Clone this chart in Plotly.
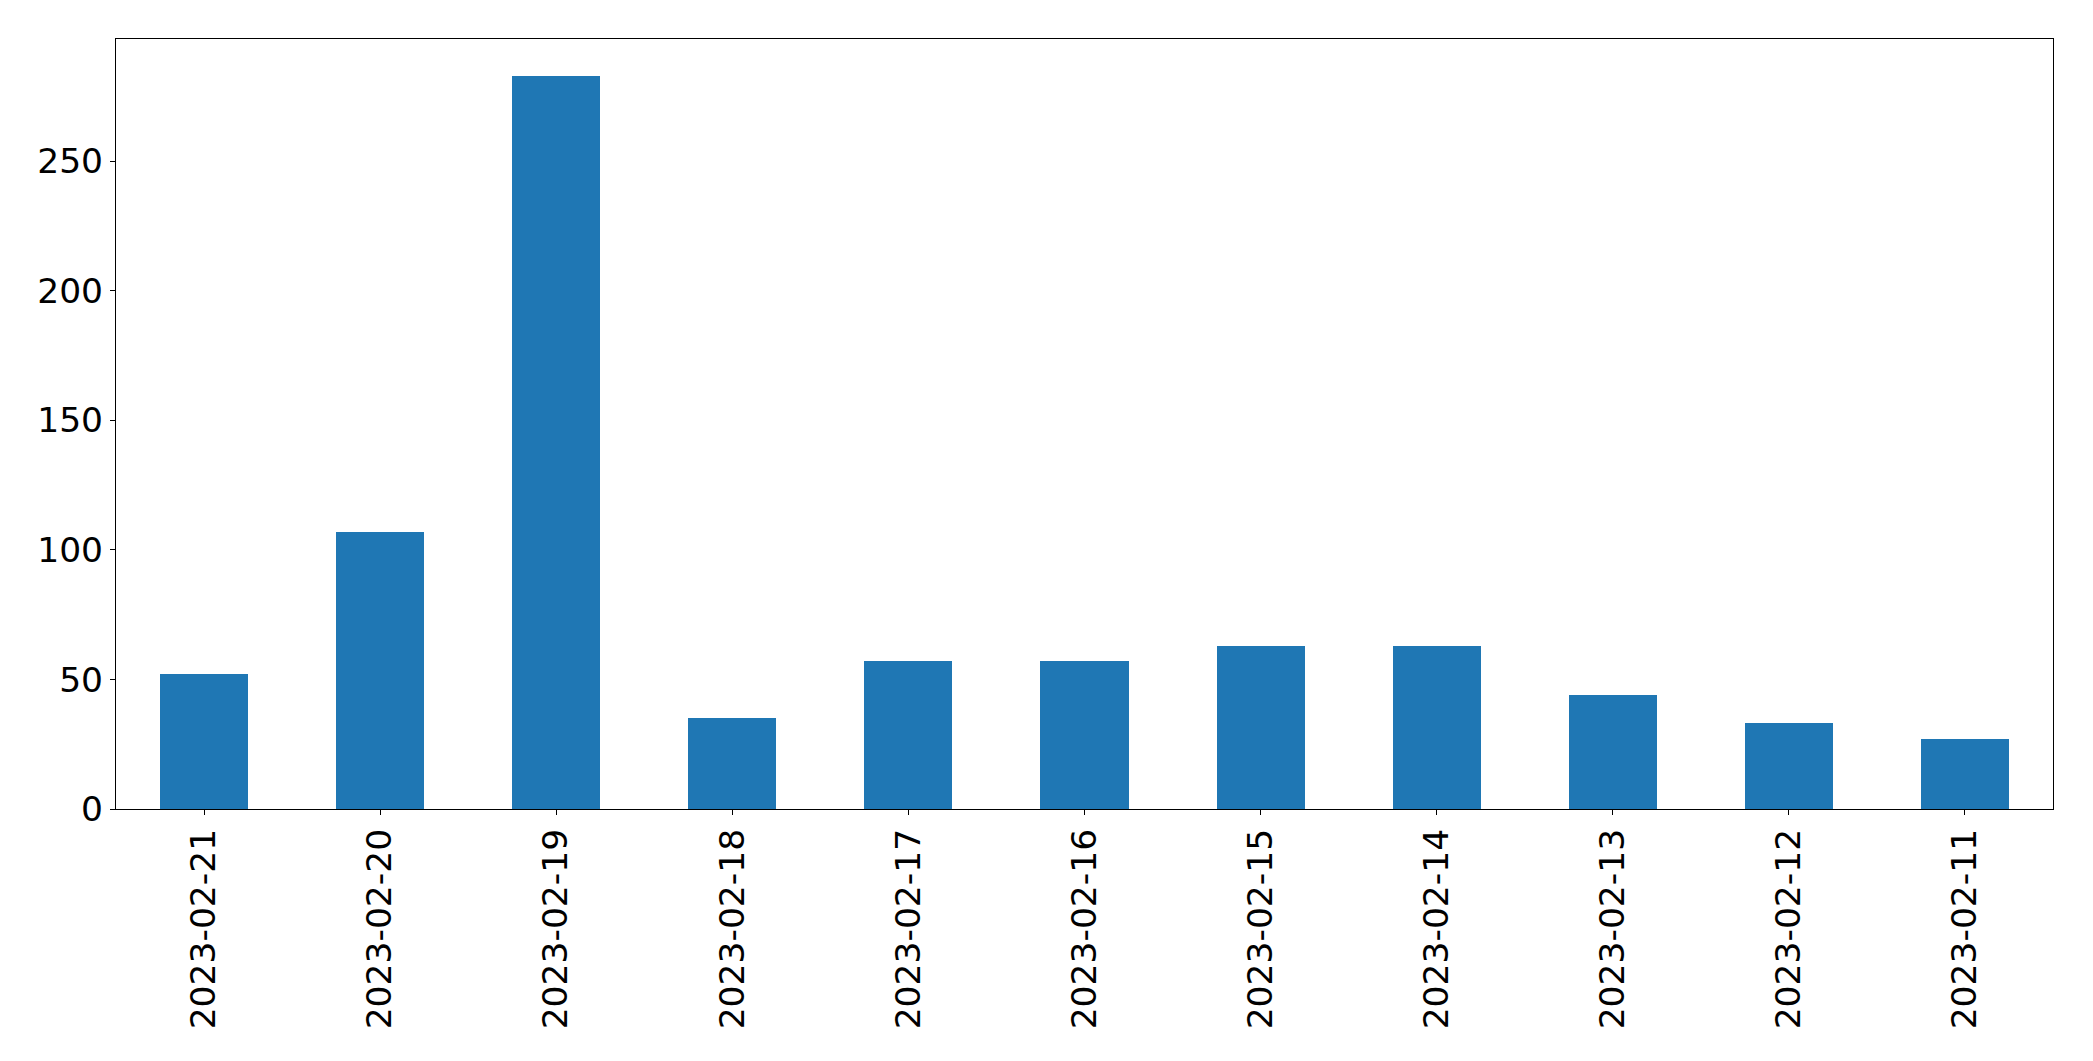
import plotly.graph_objects as go

dates = ["2023-02-21", "2023-02-20", "2023-02-19", "2023-02-18", "2023-02-17",
         "2023-02-16", "2023-02-15", "2023-02-14", "2023-02-13", "2023-02-12", "2023-02-11"]
counts = [52, 107, 283, 35, 57, 57, 63, 63, 44, 33, 27]
y_ticks = [0, 50, 100, 150, 200, 250]

fig = go.Figure(go.Bar(x=dates, y=counts, width=0.5, marker=dict(color="#1f77b4", line=dict(width=0))))

font = dict(family="DejaVu Sans", size=34.5, color="black")
fig.update_layout(
    width=2093, height=1061,
    margin=dict(l=116, r=40, t=39, b=252),
    plot_bgcolor="white", paper_bgcolor="white",
    showlegend=False, font=font,
    bargap=0,
)
fig.update_xaxes(type="category", range=[-0.5, 10.5], tickangle=-90,
                 showline=True, linecolor="black", linewidth=1.1, mirror=True,
                 ticks="outside", ticklen=5, tickwidth=1.1, tickcolor="black",
                 showgrid=False, zeroline=False, tickfont=font)
fig.update_yaxes(range=[0, 297.15], tickvals=y_ticks, ticktext=[str(v) for v in y_ticks],
                 showline=True, linecolor="black", linewidth=1.1, mirror=True,
                 ticks="outside", ticklen=5, tickwidth=1.1, tickcolor="black",
                 showgrid=False, zeroline=False, tickfont=font)

fig.write_html("out.html")
